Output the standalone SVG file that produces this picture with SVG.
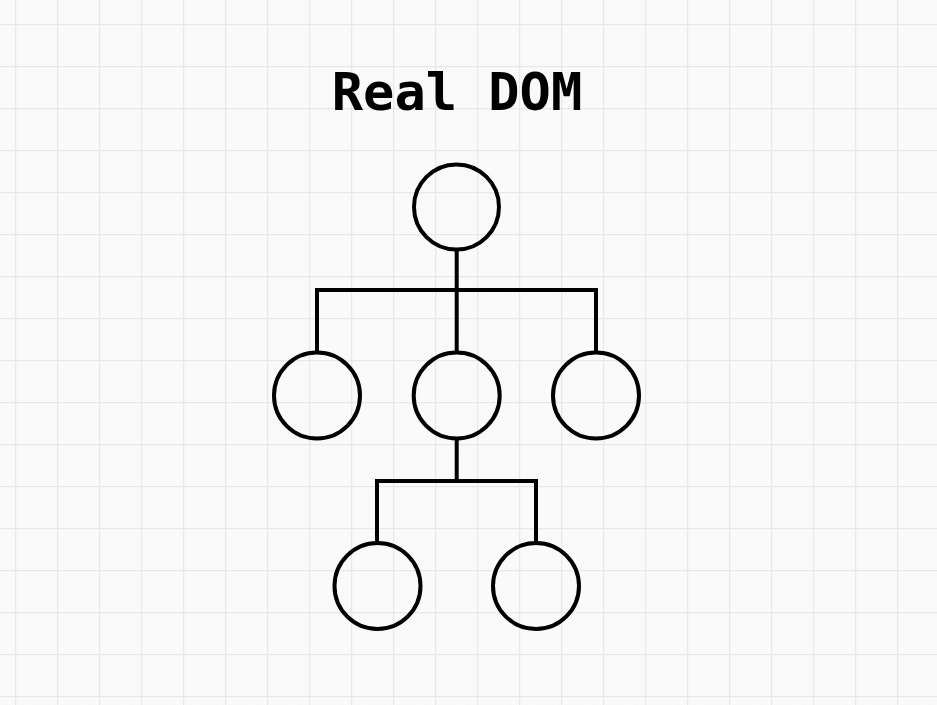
<svg xmlns="http://www.w3.org/2000/svg" width="937" height="705" viewBox="0 0 937 705">
  <defs>
    <pattern id="minor" x="15" y="24" width="8.4" height="8.4" patternUnits="userSpaceOnUse">
      <path d="M0 0H8.4M0 0V8.4" fill="none" stroke="#f0f0f0" stroke-width="1" stroke-dasharray="1 2"/>
    </pattern>
    <pattern id="major" x="15" y="24" width="42" height="42" patternUnits="userSpaceOnUse">
      <path d="M0 0H42M0 0V42" fill="none" stroke="#e8e8e8" stroke-width="2.5"/>
    </pattern>
  </defs>
  <style>
    .node { fill: none; stroke: #000; stroke-width: 4; }
    .conn { fill: none; stroke: #000; stroke-width: 4; stroke-linejoin: miter; }
    .title { font-family: "DejaVu Sans Mono", "Liberation Mono", monospace; font-weight: bold; font-size: 52px; fill: #000; }
  </style>
  <rect width="937" height="705" fill="#fafafa"/>
  <rect width="937" height="705" fill="url(#minor)"/>
  <rect width="937" height="705" fill="url(#major)"/>
  <text class="title" x="457" y="110" text-anchor="middle">Real DOM</text>
  <g id="connectors">
    <path class="conn" d="M456.7 249V352"/>
    <path class="conn" d="M317 352V290H596V352"/>
    <path class="conn" d="M456.7 438V481"/>
    <path class="conn" d="M377 543V481H536V543"/>
  </g>
  <g id="root"><circle class="node" cx="456.5" cy="207" r="42.5"/></g>
  <g id="child-left"><circle class="node" cx="317" cy="395.5" r="43"/></g>
  <g id="child-middle"><circle class="node" cx="456.7" cy="395.5" r="43"/></g>
  <g id="child-right"><circle class="node" cx="596" cy="395.5" r="43"/></g>
  <g id="grandchild-left"><circle class="node" cx="377.5" cy="586" r="43"/></g>
  <g id="grandchild-right"><circle class="node" cx="536" cy="586" r="43"/></g>
</svg>
